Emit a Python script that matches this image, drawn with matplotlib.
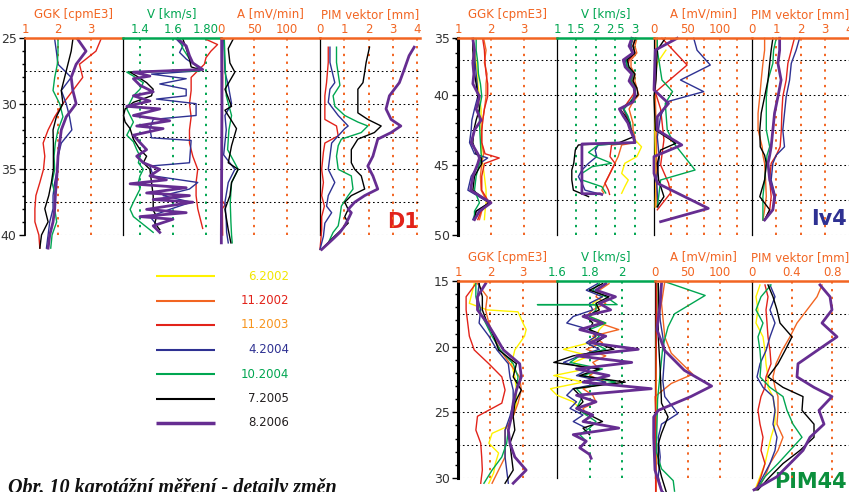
import matplotlib.pyplot as plt
from matplotlib.ticker import MultipleLocator

W, H = 849, 492

surveys = ['6.2002', '11.2002', '11.2003', '4.2004', '10.2004', '7.2005', '8.2006']
line_colors = ['#fff200', '#f26522', '#e2231a', '#2e3192', '#00a651', '#000000', '#662d91']
label_colors = ['#f2e600', '#e2231a', '#f7941d', '#2e3192', '#00a651', '#231f20', '#231f20']
line_widths = [1.0, 1.0, 1.0, 1.0, 1.0, 1.0, 2.0]

# ---------------- D1 (depth 25-40 m) ----------------
d1_ggk_z = [25.1, 26, 27, 28, 29, 30, 31, 32, 33, 34, 35, 36, 37, 38, 39, 40, 41]
d1_ggk = {
    '11.2003': (d1_ggk_z, [3.3, 3.15, 2.65, 2.75, 2.45, 2.15, 1.9, 1.7, 1.55, 1.6, 1.56, 1.45, 1.33, 1.3, 1.3, 1.42, 1.45]),
    '4.2004': (d1_ggk_z, [1.9, 1.95, 2.0, 2.4, 2.1, 2.25, 2.35, 2.42, 2.1, 2.0, 1.98, 1.9, 1.85, 1.85, 1.75, 1.7, 1.65]),
    '10.2004': (d1_ggk_z, [2.0, 2.0, 1.98, 1.9, 1.85, 2.05, 2.15, 2.0, 1.92, 1.88, 1.9, 1.82, 1.92, 1.9, 1.96, 1.82, 1.78]),
    '7.2005': (d1_ggk_z, [2.45, 2.4, 2.3, 2.2, 2.1, 2.15, 1.95, 1.85, 1.86, 1.86, 1.86, 1.8, 1.72, 1.6, 1.7, 1.5, 1.45]),
    '8.2006': (d1_ggk_z, [2.6, 2.85, 2.55, 2.4, 2.45, 2.55, 2.25, 2.1, 2.05, 2.0, 1.98, 1.95, 1.92, 1.9, 1.85, 1.75, 1.7]),
}
d1_v = {
    '11.2003': ([25.1, 25.5, 26.0, 26.5, 27.0, 27.5, 28.0, 29.0, 30.0, 31.0, 32.0, 33.0, 34.0, 35.0, 36.0, 37.0, 38.0, 39.0, 39.5],
                [1.80, 1.87, 1.83, 1.80, 1.79, 1.75, 1.71, 1.71, 1.70, 1.71, 1.70, 1.70, 1.72, 1.75, 1.74, 1.74, 1.75, 1.77, 1.78]),
    '4.2004': ([25.08, 25.6, 26.1, 26.6, 27.1, 27.5, 27.75, 28.1, 28.5, 28.9, 29.4, 29.65, 30.0, 30.9, 31.2, 31.9, 32.6, 32.8,
                34.5, 34.75, 35.5, 36.0, 36.5, 37.0, 37.5, 38.05, 38.6, 39.2],
               [1.62, 1.66, 1.64, 1.68, 1.74, 1.76, 1.47, 1.68, 1.52, 1.68, 1.68, 1.50, 1.74, 1.74, 1.48, 1.46, 1.47, 1.71,
                1.70, 1.46, 1.48, 1.75, 1.70, 1.54, 1.71, 1.58, 1.46, 1.50]),
    '10.2004': ([25.1, 25.8, 26.6, 27.1, 27.5, 27.6, 27.9, 28.4, 28.9, 29.4, 29.9, 30.4, 30.9, 31.4, 31.9, 32.4, 32.9, 33.5,
                 34.0, 34.5, 35.0, 35.5, 36.0, 36.5, 37.0, 37.5, 38.05, 38.6, 39.1, 39.6, 39.8],
                [1.64, 1.66, 1.70, 1.74, 1.77, 1.32, 1.36, 1.42, 1.40, 1.36, 1.34, 1.32, 1.34, 1.36, 1.34, 1.32, 1.36, 1.38,
                 1.40, 1.39, 1.42, 1.40, 1.39, 1.40, 1.38, 1.36, 1.34, 1.36, 1.41, 1.46, 1.48]),
    '7.2005': ([25.08, 25.8, 26.6, 27.2, 27.4, 27.6, 27.9, 28.4, 28.9, 29.4, 29.9, 30.4, 30.9, 31.4, 31.9, 32.7, 33.5, 34.0,
                34.5, 35.0, 36.0, 37.0, 38.1, 38.6, 39.1, 39.6],
               [1.66, 1.68, 1.70, 1.71, 1.76, 1.34, 1.38, 1.44, 1.48, 1.47, 1.36, 1.31, 1.30, 1.31, 1.34, 1.36, 1.40, 1.44,
                1.42, 1.46, 1.47, 1.48, 1.48, 1.50, 1.49, 1.52]),
    '8.2006': ([25.08, 25.6, 26.35, 26.9, 27.4, 27.6, 27.9, 28.1, 28.6, 29.1, 29.4, 29.8, 30.2, 30.4, 30.9, 31.3, 31.7, 31.9,
                32.4, 32.96, 33.5, 34.0, 34.5, 35.0, 35.5, 35.8, 36.1, 36.4, 36.8, 37.0, 37.3, 37.5, 38.05, 38.3, 38.6, 38.8,
                39.3, 39.8],
               [1.63, 1.68, 1.70, 1.72, 1.78, 1.36, 1.46, 1.36, 1.40, 1.48, 1.36, 1.46, 1.32, 1.52, 1.36, 1.58, 1.38, 1.54,
                1.36, 1.40, 1.44, 1.38, 1.42, 1.52, 1.46, 1.56, 1.34, 1.68, 1.44, 1.70, 1.48, 1.72, 1.44, 1.68, 1.40, 1.60,
                1.48, 1.52]),
}
d1_a = {
    '11.2003': ([25.08, 28.0, 31.0, 34.0, 37.4, 37.7, 38.0, 40.0], [2, 2.5, 1.5, 2, 2, 6, 2, 2.5]),
    '4.2004': ([25.08, 27.6, 28.6, 30.0, 30.9, 32.0, 33.9, 35.0, 36.0, 37.5, 39.0, 39.8, 40.6],
               [4, 6, 11, 16, 6, 8, 4, 21, 11, 6, 8, 8.5, 11]),
    '10.2004': ([25.08, 26.5, 28.0, 29.4, 30.9, 32.0, 33.5, 35.0, 36.0, 37.5, 39.0, 40.0, 40.6],
                [5, 6, 7, 8, 16, 12, 10, 26, 16, 14, 15, 16, 17]),
    '7.2005': ([25.08, 25.8, 26.9, 27.6, 28.9, 30.2, 30.5, 31.9, 33.2, 34.5, 35.0, 36.0, 37.0, 38.05, 39.6, 40.6],
               [18.5, 11, 13.5, 21, 6, 16, 6, 23.5, 16, 11, 26, 16, 13.5, 6, 11, 15]),
    '8.2006': ([25.08, 30.0, 35.0, 40.0, 40.6], [1, 1.5, 1, 0.5, 0.5]),
}
d1_pim = {
    '11.2003': ([25.7, 26.86, 28.4, 29.4, 31.2, 31.7, 32.45, 33.0, 33.7, 35.0, 36.0, 37.0, 37.8, 38.6, 39.6, 41.1],
                [0.34, 0.34, 0.27, 0.2, 0.2, 0.68, 0.75, 0.2, 0.14, 0.07, 0.14, 0.07, 0.18, 0.07, 0.07, 0.0]),
    '4.2004': ([25.7, 26.86, 28.4, 28.9, 29.9, 30.9, 31.7, 31.9, 32.45, 33.0, 34.0, 35.0, 36.0, 37.0, 37.8, 38.3, 39.1, 40.1, 41.1],
               [0.41, 0.41, 0.61, 0.41, 0.34, 0.75, 1.16, 1.02, 0.75, 0.48, 0.41, 0.34, 0.61, 0.34, 0.27, 0.48, 0.2, 0.14, 0.0]),
    '10.2004': ([25.7, 26.86, 28.6, 29.4, 30.2, 30.9, 31.4, 31.7, 32.2, 32.7, 33.2, 34.0, 35.0, 35.5, 36.5, 37.0, 37.8, 38.6,
                 39.3, 39.8, 40.6, 41.1],
                [0.68, 0.68, 0.82, 0.54, 0.61, 1.02, 1.56, 1.97, 1.7, 0.88, 0.75, 0.68, 0.75, 1.29, 1.36, 1.16, 0.88, 0.82,
                 0.75, 0.54, 0.34, 0.07]),
    '7.2005': ([25.7, 26.86, 27.6, 28.4, 28.9, 29.4, 30.7, 31.2, 31.7, 32.2, 32.7, 33.5, 34.5, 35.0, 35.5, 36.5, 37.0, 37.5,
                38.05, 38.6, 39.1, 39.6, 40.3, 41.1],
               [2.04, 1.9, 1.84, 1.77, 1.56, 1.56, 1.56, 1.97, 2.52, 2.24, 1.56, 1.29, 1.29, 1.43, 1.7, 1.84, 1.29, 1.02,
                1.16, 1.02, 1.16, 0.88, 0.48, 0.07]),
    '8.2006': ([25.7, 26.35, 27.4, 28.4, 29.4, 30.4, 31.2, 31.7, 32.2, 32.7, 34.0, 34.75, 35.5, 36.5, 37.0, 37.5, 38.05, 38.3,
                38.8, 39.3, 39.8, 40.3, 41.1],
               [3.88, 3.67, 3.47, 3.27, 2.86, 2.72, 2.93, 3.33, 2.93, 2.38, 2.18, 1.97, 2.18, 2.38, 1.84, 1.43, 1.16, 1.29,
                1.16, 1.02, 0.82, 0.54, 0.07]),
}

# ---------------- Iv4 (depth 35-50 m) ----------------
iv4_ggk_z = [36.0, 36.8, 37.7, 38.5, 39.2, 40.1, 41.0, 41.8, 42.5, 43.4, 44.2, 44.5, 44.9, 45.8, 46.8, 47.7, 48.3, 48.9]
iv4_ggk = {
    '6.2002': (iv4_ggk_z, [1.45, 1.5, 1.55, 1.6, 1.6, 1.65, 1.7, 1.7, 1.7, 1.7, 1.72, 1.72, 1.75, 1.8, 1.85, 1.85, 1.82, 1.8]),
    '11.2002': (iv4_ggk_z, [1.78, 1.85, 1.8, 1.88, 1.85, 1.85, 1.8, 1.75, 1.72, 1.72, 1.78, 1.75, 1.72, 1.68, 1.7, 1.9, 1.72, 1.65]),
    '11.2003': (iv4_ggk_z, [1.75, 1.8, 1.82, 1.85, 1.9, 1.9, 1.8, 1.75, 1.72, 1.72, 1.82, 2.25, 1.8, 1.72, 1.72, 1.95, 1.7, 1.6]),
    '4.2004': (iv4_ggk_z, [1.45, 1.5, 1.52, 1.55, 1.58, 1.6, 1.5, 1.42, 1.4, 1.35, 1.5, 1.9, 1.65, 1.4, 1.3, 1.95, 1.55, 1.45]),
    '10.2004': (iv4_ggk_z, [1.55, 1.55, 1.6, 1.62, 1.68, 1.72, 1.65, 1.65, 1.66, 1.68, 1.7, 1.72, 1.65, 1.55, 1.5, 1.65, 1.5, 1.5]),
    '7.2005': (iv4_ggk_z, [1.45, 1.45, 1.48, 1.5, 1.55, 1.6, 1.65, 1.55, 1.48, 1.45, 1.55, 1.7, 1.72, 1.5, 1.45, 1.95, 1.55, 1.5]),
    '8.2006': (iv4_ggk_z, [1.45, 1.5, 1.45, 1.48, 1.45, 1.65, 1.55, 1.7, 1.5, 1.4, 1.6, 1.65, 1.6, 1.45, 1.38, 2.0, 1.65, 1.5]),
}
iv4_v_up = [35.95, 36.5, 37.0, 37.5, 38.0, 38.5, 39.0, 39.5, 40.0, 40.5, 41.0, 41.5, 42.0, 42.5, 43.0, 43.4]
iv4_v = {
    '6.2002': ([43.2, 43.7, 44.4, 44.88, 45.6, 46.07, 46.55, 47.02], [3.0, 3.17, 3.05, 2.74, 2.66, 2.83, 2.74, 2.66]),
    '11.2002': (iv4_v_up + [43.57, 44.4, 45.36, 45.83, 46.8, 47.0],
                [3.05, 3.0, 3.05, 2.9, 2.9, 3.0, 3.0, 3.05, 3.1, 2.95, 2.85, 2.9, 2.95, 2.95, 3.0, 3.0]
                + [2.66, 2.57, 2.4, 2.32, 2.15, 2.2]),
    '11.2003': (iv4_v_up + [43.57, 44.4, 44.88, 45.6, 46.3, 46.8, 47.1],
                [3.0, 2.95, 3.0, 2.85, 2.82, 2.95, 2.95, 3.02, 2.95, 2.82, 2.7, 2.78, 2.85, 2.9, 2.95, 3.0]
                + [2.4, 2.36, 2.49, 2.36, 2.23, 2.32, 2.35]),
    '4.2004': (iv4_v_up + [43.57, 43.93, 44.4, 44.88, 45.36, 45.83, 46.3, 46.8, 47.0],
               [2.95, 2.9, 2.95, 2.75, 2.8, 2.95, 2.9, 3.0, 3.02, 2.88, 2.7, 2.8, 2.88, 2.9, 2.98, 3.0]
               + [2.06, 1.98, 2.02, 1.81, 1.64, 1.55, 1.64, 1.72, 2.0]),
    '10.2004': (iv4_v_up + [43.57, 44.1, 44.4, 44.88, 45.12, 45.6, 46.07, 46.55, 47.0],
                [2.95, 2.88, 2.92, 2.78, 2.8, 2.95, 2.9, 3.0, 3.0, 2.88, 2.72, 2.82, 2.88, 2.9, 2.96, 3.02]
                + [2.06, 1.81, 1.98, 2.4, 1.9, 1.64, 1.64, 2.15, 2.25]),
    '7.2005': (iv4_v_up + [43.57, 43.93, 44.88, 45.36, 46.07, 46.8, 47.26],
               [3.02, 2.95, 3.0, 2.8, 2.85, 3.0, 2.95, 3.05, 3.08, 2.9, 2.62, 2.75, 2.85, 2.9, 2.95, 2.6]
               + [1.55, 1.47, 1.43, 1.38, 1.38, 1.42, 1.81]),
    '8.2006': (iv4_v_up + [43.5, 47.05, 47.05, 47.1],
               [2.92, 2.85, 2.95, 2.7, 2.75, 2.92, 2.85, 2.98, 3.0, 2.95, 2.6, 2.7, 2.82, 2.88, 2.96, 3.0]
               + [1.64, 1.64, 2.1, 2.15]),
}
iv4_a = {
    '6.2002': ([36.8, 37.7, 38.5, 40.0, 42.0, 44.0, 46.0, 48.0], [18, 5, 2, 1, 1, 2, 3, 2]),
    '11.2002': ([35.95, 40.0, 44.0, 48.0], [3, 2, 4, 3]),
    '11.2003': ([35.95, 37.86, 39.8, 41.0, 43.2, 45.0, 46.3, 47.0, 48.2], [12, 50, 2, 10, 15, 10, 22, 25, 5]),
    '4.2004': ([35.95, 36.8, 37.86, 38.93, 39.76, 40.48, 41.5, 43.0, 44.5, 46.0, 48.0], [60, 65, 85, 40, 75, 20, 10, 5, 8, 4, 6]),
    '10.2004': ([35.95, 36.79, 38.93, 39.76, 40.6, 42.5, 43.45, 45.36, 46.07, 47.26, 47.98], [5, 5, 12, 28, 17, 20, 30, 62, 10, 7, 5]),
    '7.2005': ([35.95, 36.79, 38.93, 40.12, 42.5, 43.45, 43.93, 44.88, 46.07, 47.26, 47.98], [17, 5, 3, 0, 2, 33, 10, 5, 7, 15, 5]),
    '8.2006': ([35.95, 36.79, 39.64, 40.6, 41.55, 42.5, 43.57, 44.4, 45.6, 46.3, 48.1, 49.05], [35, 2, 0, 22, 5, 5, 42, 0, 0, 5, 82, 10]),
}
iv4_pim_z = [35.95, 36.8, 37.74, 38.93, 40.12, 41.3, 42.5, 43.7, 44.3, 44.88, 46.07, 47.26, 48.2, 48.93]
iv4_pim = {
    '11.2002': (iv4_pim_z, [0.52, 0.52, 0.45, 0.38, 0.32, 0.25, 0.25, 0.42, 0.45, 0.52, 0.56, 0.59, 0.52, 0.45]),
    '11.2003': (iv4_pim_z, [1.75, 1.62, 1.48, 1.41, 1.27, 1.23, 1.21, 1.16, 1.0, 0.79, 0.73, 0.79, 0.73, 0.52]),
    '4.2004': (iv4_pim_z, [1.96, 1.82, 1.62, 1.55, 1.41, 1.34, 1.27, 1.34, 1.0, 0.86, 0.79, 0.97, 0.86, 0.52]),
    '10.2004': (iv4_pim_z, [1.0, 0.89, 0.86, 0.66, 0.59, 0.59, 0.59, 0.73, 0.62, 0.59, 0.52, 0.45, 0.45, 0.45]),
    '7.2005': (iv4_pim_z, [0.86, 0.79, 0.73, 0.66, 0.52, 0.38, 0.32, 0.34, 0.52, 0.59, 0.52, 0.32, 0.73, 0.52]),
    '8.2006': (iv4_pim_z, [1.14, 1.14, 1.07, 1.2, 1.07, 0.93, 0.86, 0.79, 0.73, 0.66, 0.73, 0.93, 0.86, 0.52]),
}

# ---------------- PIM44 (depth 15-30 m) ----------------
pim_ggk_z = [15.2, 16.2, 17.2, 18.2, 19.2, 20.25, 21.3, 22.3, 23.3, 24.3, 25.3, 26.35, 27.35, 28.4, 29.4, 30.4]
pim_ggk = {
    '6.2002': ([15.2, 16.2, 16.7, 17.2, 17.35, 18.2, 18.7, 19.2, 20.25, 21.3, 22.3, 23.3, 24.3, 25.3, 26.1, 26.6, 27.35,
                28.1, 28.9, 29.6, 30.4],
               [1.5, 1.4, 1.35, 1.9, 2.85, 3.0, 3.1, 3.05, 2.75, 2.65, 2.75, 2.8, 2.8, 2.7, 2.5, 2.05, 1.95,
                2.25, 2.15, 2.1, 1.95]),
    '11.2002': (pim_ggk_z, [1.6, 1.9, 1.85, 1.95, 2.1, 2.3, 2.6, 2.9, 2.95, 2.85, 2.7, 2.45, 2.45, 2.45, 2.25, 2.05]),
    '11.2003': (pim_ggk_z, [1.55, 1.25, 1.25, 1.3, 1.35, 1.5, 1.95, 2.35, 2.45, 2.35, 1.6, 1.55, 1.7, 1.73, 1.75, 1.7]),
    '4.2004': (pim_ggk_z, [1.65, 1.6, 1.7, 1.65, 1.95, 2.2, 2.55, 2.6, 2.7, 2.7, 2.6, 2.45, 2.45, 2.45, 2.5, 2.55]),
    '10.2004': (pim_ggk_z, [1.55, 1.55, 1.65, 1.85, 2.05, 2.3, 2.7, 2.85, 2.8, 2.75, 2.65, 2.55, 2.5, 2.35, 2.05, 1.8]),
    '7.2005': (pim_ggk_z, [1.65, 1.75, 1.75, 1.9, 2.1, 2.25, 2.8, 2.7, 2.95, 2.75, 2.7, 2.75, 2.6, 2.65, 2.7, 2.45]),
    '8.2006': (pim_ggk_z, [1.85, 1.6, 1.6, 1.9, 2.15, 2.4, 2.9, 2.95, 2.8, 2.7, 2.65, 2.55, 2.6, 2.75, 3.1, 2.7]),
}
pim_v_z = [15.2, 15.7, 16.2, 16.7, 17.2, 17.7, 18.2, 18.7, 19.2, 19.7, 20.2, 20.7, 21.2, 21.7, 22.2, 22.7, 23.2, 23.7,
           24.2, 24.7, 25.2, 25.7, 26.2, 26.7, 27.2, 27.7, 28.2, 28.5]
pim_v = {
    '6.2002': (pim_v_z[:20], [1.9, 1.84, 1.88, 1.82, 1.86, 1.8, 1.9, 1.86, 1.84, 1.8, 1.64, 1.8, 1.7, 1.78, 1.58, 1.76,
                              1.56, 1.6, 1.7, 1.74]),
    '11.2002': (pim_v_z[:21], [1.92, 1.86, 1.84, 1.9, 1.82, 1.78, 1.86, 1.98, 1.82, 1.88, 1.78, 1.9, 1.82, 1.86, 1.8, 1.9,
                               1.76, 1.82, 1.84, 1.76, 1.78]),
    '4.2004': (pim_v_z[:23], [1.85, 1.78, 1.88, 1.8, 1.82, 1.7, 1.66, 1.8, 1.84, 1.78, 1.86, 1.74, 1.64, 1.8, 1.72, 1.9,
                              1.7, 1.66, 1.72, 1.68, 1.76, 1.7, 1.78]),
    '10.2004': ([15.2, 15.7, 16.2, 16.8, 16.8, 16.8, 17.2, 17.7, 18.2, 18.7, 19.2, 19.7, 20.2, 20.7, 21.2, 21.7, 22.2, 22.7,
                 23.2, 23.7, 24.2, 24.7, 25.2, 25.7, 26.2, 26.7, 27.2],
                [1.86, 1.82, 1.9, 1.97, 1.48, 1.84, 1.84, 1.8, 1.9, 1.8, 1.86, 1.82, 1.9, 1.74, 1.68, 1.88, 1.76, 1.96,
                 1.72, 1.76, 1.74, 1.72, 1.78, 1.84, 1.8, 1.74, 1.78]),
    '7.2005': (pim_v_z[:24], [1.88, 1.8, 1.92, 1.84, 1.86, 1.78, 1.82, 1.8, 1.9, 1.84, 1.95, 1.7, 1.58, 1.86, 1.74, 2.02,
                              1.7, 1.74, 1.76, 1.72, 1.8, 1.88, 1.76, 1.8]),
    '8.2006': (pim_v_z, [1.9, 1.84, 1.96, 1.86, 1.93, 1.76, 1.88, 1.74, 1.9, 1.8, 2.1, 1.72, 2.06, 1.72, 1.92, 1.76, 2.18,
                         1.72, 1.84, 1.72, 1.82, 1.76, 1.98, 1.7, 1.78, 1.74, 1.8, 1.81]),
}
pim_a = {
    '6.2002': ([15.2, 20.0, 25.0, 30.0], [3, 2, 2, 2]),
    '11.2002': ([15.05, 16.7, 19.25, 20.5, 22.1, 22.8, 23.8, 26.0, 28.0, 30.0, 31.0], [15, 10, 15, 25, 58, 25, 0, 2, 1, 2, 2]),
    '11.2003': ([15.2, 20.0, 25.0, 30.0, 31.5], [2, 2, 1, 1, 1]),
    '4.2004': ([15.2, 18.0, 19.25, 20.5, 22.6, 23.8, 25.1, 25.9, 26.9, 28.4, 29.9, 30.95, 32.0],
               [5, 8, 12, 15, 12, 15, 35, 10, 5, 8, 5, 10, 35]),
    '10.2004': ([15.05, 16.1, 17.5, 18.5, 20.0, 22.0, 24.0, 26.0, 28.0, 29.3, 30.2, 31.0],
                [15, 77, 30, 20, 12, 8, 4, 3, 2, 10, 28, 30]),
    '7.2005': ([15.2, 19.25, 21.8, 24.3, 25.35, 26.6, 27.4, 28.9, 29.9, 31.5], [5, 5, 8, 10, 20, 10, 5, 5, 10, 20]),
    '8.2006': ([15.2, 16.7, 18.7, 20.3, 21.8, 23.0, 23.8, 24.85, 25.35, 26.9, 29.4, 30.95, 32.0],
               [10, 8, 3, 15, 45, 87, 55, 5, -2, -2, 0, 10, 20]),
}
pim_pim_z = [15.3, 16.2, 17.2, 18.2, 19.25, 20.3, 21.3, 22.3, 23.1, 23.8, 24.85, 25.9, 26.9, 27.9, 28.9, 29.9, 30.9]
pim_pim = {
    '6.2002': (pim_pim_z, [0.08, 0.04, 0.06, 0.04, 0.11, 0.13, 0.14, 0.16, 0.16, 0.21, 0.23, 0.23, 0.19, 0.16, 0.13, 0.08, 0.03]),
    '11.2002': (pim_pim_z, [0.70, 0.65, 0.55, 0.45, 0.38, 0.30, 0.24, 0.21, 0.23, 0.26, 0.26, 0.25, 0.31, 0.26, 0.18, 0.13, 0.05]),
    '11.2003': (pim_pim_z, [0.13, 0.16, 0.14, 0.15, 0.16, 0.18, 0.19, 0.14, 0.13, 0.09, 0.06, 0.08, 0.11, 0.09, 0.13, 0.09, 0.04]),
    '4.2004': (pim_pim_z, [0.18, 0.23, 0.18, 0.23, 0.18, 0.14, 0.08, 0.05, 0.11, 0.21, 0.23, 0.21, 0.25, 0.23, 0.18, 0.11, 0.04]),
    '10.2004': (pim_pim_z, [0.19, 0.09, 0.04, 0.11, 0.06, 0.08, 0.09, 0.08, 0.18, 0.31, 0.35, 0.41, 0.50, 0.38, 0.26, 0.13, 0.05]),
    '7.2005': (pim_pim_z, [0.16, 0.21, 0.25, 0.28, 0.40, 0.33, 0.26, 0.16, 0.31, 0.51, 0.50, 0.62, 0.62, 0.48, 0.31, 0.18, 0.06]),
    '8.2006': (pim_pim_z, [0.68, 0.78, 0.80, 0.70, 0.85, 0.65, 0.46, 0.45, 0.62, 0.80, 0.67, 0.72, 0.58, 0.51, 0.38, 0.25, 0.02]),
}

ORANGE = '#f26522'
GREEN = '#00a651'

plt.rcParams['font.family'] = ['DejaVu Sans']
fig = plt.figure(figsize=(W / 100, H / 100), dpi=100)

# overlay in pixel units for legend, caption and well names
over = fig.add_axes([0, 0, 1, 1])
over.set_xlim(0, W)
over.set_ylim(H, 0)
over.axis('off')


def track(x0, x1, y0, y1, ylim, xlim, ticks, labels, vgrid, title, color, hgrid):
    ax = fig.add_axes([x0 / W, 1 - y1 / H, (x1 - x0) / W, (y1 - y0) / H])
    ax.patch.set_alpha(0)
    ax.set_xlim(xlim)
    ax.set_ylim(ylim)
    ax.xaxis.tick_top()
    ax.set_xticks(ticks, labels)
    ax.tick_params(axis='x', length=0, pad=1.5, labelsize=8.5, labelcolor=color)
    ax.annotate(title, (0.5, 1), xycoords='axes fraction', xytext=(0, 17),
                textcoords='offset points', ha='center', va='center', color=color, fontsize=8.5)
    ax.spines['right'].set_visible(False)
    ax.spines['bottom'].set_visible(False)
    ax.spines['top'].set_color(color)
    ax.spines['top'].set_linewidth(1.8)
    ax.spines['top'].set_zorder(5)
    ax.spines['left'].set_linewidth(0.9)
    ax.set_yticks([])
    for g in vgrid:
        ax.axvline(g, color=color, ls=(0, (1.2, 2.8)), lw=1.4, zorder=1)
    for g in hgrid:
        ax.axhline(g, color='black', ls=(0, (1.6, 2.6)), lw=0.75, zorder=1)
    return ax


def draw(ax, data):
    for s, c, lw in zip(surveys, line_colors, line_widths):
        if s in data:
            z, v = data[s]
            ax.plot(v, z, color=c, lw=lw, clip_on=False, zorder=3, solid_joinstyle='round')


def depth_axis(ax, ticks, labels, width):
    ax.set_yticks(ticks, labels)
    ax.yaxis.set_minor_locator(MultipleLocator(1))
    ax.tick_params(axis='y', which='major', length=4, width=1, pad=2, labelsize=9, labelcolor='#333333')
    ax.tick_params(axis='y', which='minor', length=2, width=1)
    ax.spines['left'].set_linewidth(width)


# D1
ylim = (40, 25)
hg = [27.5, 30, 32.5, 35, 37.5, 40]
ax = track(25, 123, 38, 235, ylim, (1, 3.97), [1, 2, 3], ['1', '2', '3'], [2, 3], 'GGK [cpmE3]', ORANGE, hg)
depth_axis(ax, [25, 30, 35, 40], ['25', '30', '35', '40'], 1.3)
draw(ax, d1_ggk)
ax = track(123, 221, 38, 235, ylim, (1.297, 1.891), [1.4, 1.6, 1.8], ['1.4', '1.6', '1.80'], [1.4, 1.6, 1.8],
           'V [km/s]', GREEN, hg)
draw(ax, d1_v)
ax = track(221, 320, 38, 235, ylim, (0, 150), [0, 50, 100], ['0', '50', '100'], [50, 100], 'A [mV/min]', ORANGE, hg)
draw(ax, d1_a)
ax = track(320, 420, 38, 235, ylim, (0, 4.12), [0, 1, 2, 3, 4], ['0', '1', '2', '3', '4'], [1, 2, 3, 4],
           'PIM vektor [mm]', ORANGE, hg)
draw(ax, d1_pim)

# Iv4
ylim = (50, 35.93)
hg = [37.5, 40, 42.5, 45, 47.5, 50]
ax = track(458, 557, 38, 235, ylim, (1, 4), [1, 2, 3], ['1', '2', '3'], [2, 3], 'GGK [cpmE3]', ORANGE, hg)
depth_axis(ax, [35.93, 40, 45, 50], ['35', '40', '45', '50'], 2.2)
draw(ax, iv4_ggk)
ax = track(557, 654, 38, 235, ylim, (1, 3.49), [1, 1.5, 2, 2.5, 3], ['1', '1.5', '2', '2.5', '3'],
           [1.5, 2, 2.5, 3], 'V [km/s]', GREEN, hg)
draw(ax, iv4_v)
ax = track(654, 752, 38, 235, ylim, (0, 148), [0, 50, 100], ['0', '50', '100'], [25, 50, 75, 100, 125],
           'A [mV/min]', ORANGE, hg)
draw(ax, iv4_a)
ax = track(752, 849, 38, 235, ylim, (0, 4), [0, 1, 2, 3, 4], ['0', '1', '2', '3', '4'], [1, 2, 3],
           'PIM vektor [mm]', ORANGE, hg)
draw(ax, iv4_pim)

# PIM44
ylim = (30, 15)
hg = [17.5, 20, 22.5, 25, 27.5, 30]
ax = track(458, 557, 281, 478, ylim, (1, 4.05), [1, 2, 3], ['1', '2', '3'], [2, 3], 'GGK [cpmE3]', ORANGE, hg)
depth_axis(ax, [15, 20, 25, 30], ['15', '20', '25', '30'], 2.2)
draw(ax, pim_ggk)
ax = track(557, 655, 281, 478, ylim, (1.6, 2.203), [1.6, 1.8, 2.0], ['1.6', '1.8', '2'], [1.8, 2.0],
           'V [km/s]', GREEN, hg)
draw(ax, pim_v)
ax = track(655, 752, 281, 478, ylim, (0, 149), [0, 50, 100], ['0', '50', '100'], [50, 100], 'A [mV/min]', ORANGE, hg)
draw(ax, pim_a)
ax = track(752, 849, 281, 478, ylim, (0, 0.97), [0, 0.4, 0.8], ['0', '0.4', '0.8'], [0.4, 0.8],
           'PIM vektor [mm]', ORANGE, hg)
draw(ax, pim_pim)

# legend
for i, (s, c, lc, lw) in enumerate(zip(surveys, line_colors, label_colors, line_widths)):
    y = 276 + i * 24.5
    over.plot([156, 215], [y, y], color=c, lw=lw + 0.5, solid_capstyle='butt')
    over.text(289, y, s, color=lc, ha='right', va='center', fontsize=8.5)

# well names and caption
over.text(419, 222, 'D1', color='#e2231a', fontsize=15, fontweight='bold', ha='right', va='center')
over.text(847, 219, 'Iv4', color='#2e3192', fontsize=15, fontweight='bold', ha='right', va='center')
over.text(847, 482, 'PIM44', color='#0b8f3c', fontsize=15, fontweight='bold', ha='right', va='center')
over.text(8, 493, 'Obr. 10 karotážní měření - detaily změn', fontsize=14.5, family='Liberation Serif',
          fontweight='bold', style='italic', ha='left', va='baseline', color='#111111')

fig.savefig('out.png', dpi=100)
